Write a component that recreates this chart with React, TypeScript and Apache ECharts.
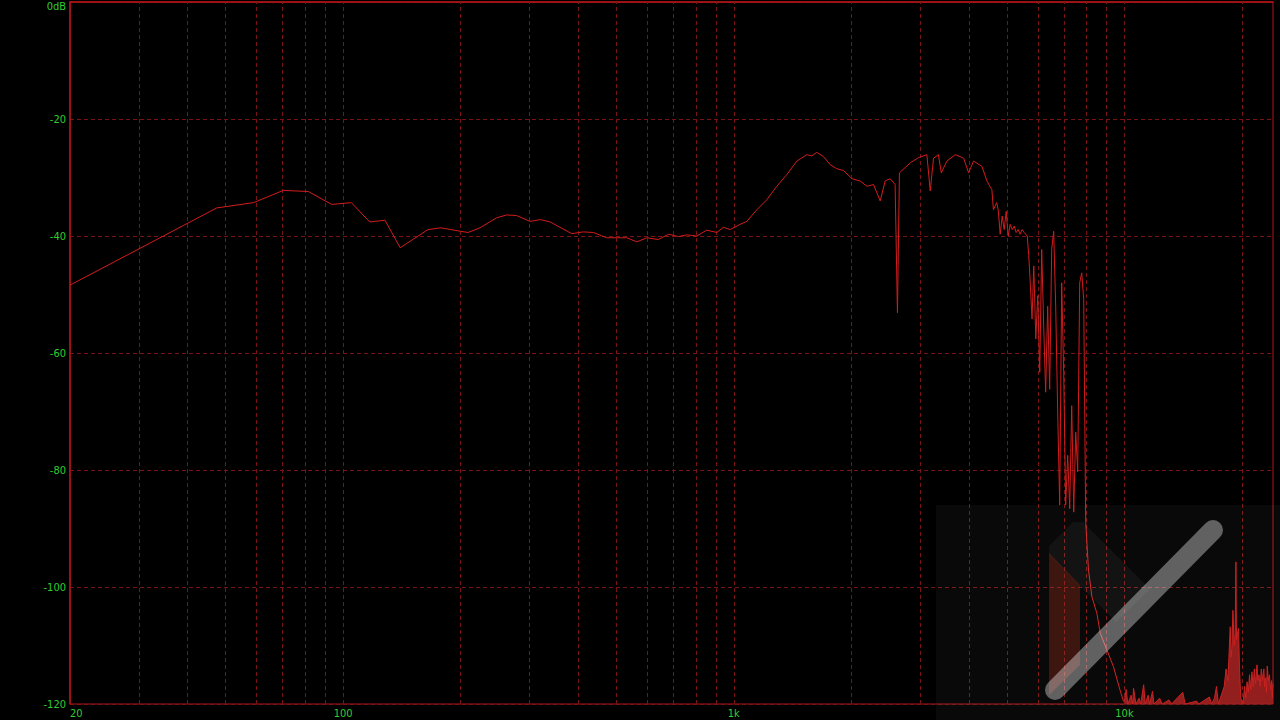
import React, { useEffect, useRef } from "react";
import * as echarts from "echarts";

// Frequency response (Hz, dB)
const mainFreq = [
  20, 47.5, 59, 70.3, 81.5, 93.5, 105, 117, 128, 140, 165, 178, 200, 209, 224, 247, 262, 278, 301, 320, 339,
  385, 412, 437, 473, 502, 532, 565, 599, 641, 681, 722, 758, 804, 853, 905, 941, 979, 1038, 1080, 1146, 1215,
  1289, 1367, 1450, 1538, 1584, 1631, 1696, 1765, 1835, 1909, 2006, 2107, 2191, 2279, 2370, 2441, 2514, 2588,
  2624, 2655, 2829, 2971, 3121, 3183, 3246, 3340, 3398, 3510, 3688, 3875, 3991, 4109, 4317, 4446, 4578, 4620,
  4709, 4752, 4808, 4865, 4922, 4981, 5040, 5099, 5160, 5221, 5283, 5345, 5408, 5472, 5537, 5638, 5690, 5738,
  5800, 5860, 5930, 5998, 6070, 6140, 6213, 6285, 6360, 6436, 6512, 6590, 6668, 6747, 6827, 6908, 6990, 7073,
  7157, 7242, 7328, 7415, 7503, 7592, 7682, 7773, 7865, 7958, 8091, 8257, 8500, 8670, 9020, 9370, 9740, 9950,
];
const mainDb = [
  -48.4, -35.2, -34.3, -32.2, -32.4, -34.6, -34.3, -37.6, -37.3, -42.0, -38.9, -38.6, -39.2, -39.4, -38.6, -36.9,
  -36.4, -36.5, -37.5, -37.2, -37.6, -39.6, -39.3, -39.4, -40.3, -40.3, -40.3, -41.0, -40.3, -40.6, -39.7, -40.1,
  -39.8, -40.0, -39.0, -39.4, -38.5, -38.9, -38.0, -37.5, -35.5, -33.8, -31.5, -29.5, -27.2, -26.1, -26.3, -25.7,
  -26.4, -27.8, -28.5, -28.8, -30.2, -30.6, -31.5, -31.2, -34.0, -30.6, -30.2, -31.2, -53.1, -29.2, -27.5, -26.6,
  -26.1, -32.3, -26.7, -26.1, -29.2, -27.2, -26.1, -26.7, -29.2, -27.2, -28.1, -30.6, -32.1, -35.5, -34.3, -35.5,
  -39.7, -36.6, -38.9, -35.8, -40.0, -38.0, -38.9, -38.3, -39.4, -38.9, -39.7, -38.9, -39.4, -40.0, -43.4, -47.9,
  -54.2, -45.1, -57.6, -50.2, -63.3, -42.3, -55.4, -66.7, -52.0, -66.2, -42.3, -39.2, -52.0, -70.1, -86.0, -48.0,
  -63.3, -86.0, -77.5, -86.6, -69.0, -87.2, -73.5, -80.3, -48.0, -46.3, -50.8, -88.9, -97.1, -101.7, -104.5,
  -107.9, -110.8, -113.6, -117.6, -119.6,
];

// Noise floor above 10 kHz
const noiseFreq = [
  10000, 10100, 10200, 10400, 10500, 10550, 10700, 10900, 11000, 11200, 11300, 11500, 11600, 11800, 11900, 12300,
  12500, 13000, 13200, 14100, 14300, 15300, 15500, 16500, 16700, 17000, 17200, 17400, 17800, 18000, 18200, 18400,
  18650, 18750, 18830, 18950, 19100, 19200, 19290, 19350, 19450, 19590, 19700, 19850, 20100, 20300, 20450, 20600,
  20750, 20900, 21050, 21200, 21350, 21500, 21650, 21840, 21950, 22100, 22250, 22400, 22550, 22740, 22850, 23000,
  23100, 23200, 23350, 23500, 23650, 23800, 23900, 24000,
];
const noiseDb = [
  -119.5, -117.5, -120, -118.5, -120, -117.3, -120, -119, -120, -116.7, -120, -118.5, -120, -117.8, -120, -119,
  -120, -119.3, -120, -118, -120, -119.5, -120, -118.8, -120, -119, -117, -120, -118, -117, -114, -116,
  -106.8, -112, -110.5, -104, -110, -108, -95.7, -109, -108, -107.1, -114, -119, -120, -117, -119, -116.2,
  -118, -115, -117.5, -114.5, -117, -114, -116.5, -113.3, -116, -115, -117, -114, -116, -114, -117, -115.5,
  -118, -113.5, -116, -115, -117.5, -116, -119, -116.5,
];

// Log grid lines (Hz)
const gridFreqs = [
  30, 40, 50, 60, 70, 80, 90, 100, 200, 300, 400, 500, 600, 700, 800, 900, 1000, 2000, 3000, 4000, 5000, 6000,
  7000, 8000, 9000, 10000, 20000,
];
const xLabels: Record<number, string> = { 20: "20", 100: "100", 1000: "1k", 10000: "10k" };

const RED_AXIS = "#b0141a";
const GRID_RED = "#7a1414";
const GREEN = "#30cc30";
const FONT = '"Liberation Sans Narrow", "DejaVu Sans Condensed", "Liberation Sans", sans-serif';

export default function App() {
  const ref = useRef<HTMLDivElement>(null);
  useEffect(() => {
    if (!ref.current) return;
    const chart = echarts.init(ref.current, undefined, { renderer: "svg" });
    const main = mainFreq.map((f, i) => [f, mainDb[i]]);
    const noise = noiseFreq.map((f, i) => [f, noiseDb[i]]);
    chart.setOption({
      animation: false,
      backgroundColor: "#000",
      grid: {
        left: 70,
        top: 2,
        width: 1203,
        height: 702,
        show: true,
        containLabel: false,
        outerBoundsMode: "none",
        borderColor: RED_AXIS,
        borderWidth: 1,
        backgroundColor: "transparent",
      },
      xAxis: {
        type: "log",
        logBase: 10,
        min: 20,
        max: 24000,
        axisLine: { show: true, lineStyle: { color: RED_AXIS, width: 1.5 } },
        axisTick: { show: false },
        splitLine: { show: false },
        axisLabel: {
          color: GREEN,
          fontFamily: FONT,
          fontSize: 11,
          margin: 4,
          showMaxLabel: false,
          alignMinLabel: "left",
          formatter: (v: number) => xLabels[Math.round(v)] ?? "",
        },
      },
      yAxis: {
        type: "value",
        min: -120,
        max: 0,
        interval: 20,
        axisLine: { show: true, lineStyle: { color: RED_AXIS, width: 1.5 } },
        axisTick: { show: false },
        splitLine: { show: true, lineStyle: { color: GRID_RED, type: [4, 3], width: 1 } },
        axisLabel: {
          color: GREEN,
          fontFamily: FONT,
          fontSize: 11,
          margin: 4,
          formatter: (v: number) => (v === 0 ? "{top|0dB}" : String(v)),
          rich: {
            top: { color: GREEN, fontFamily: FONT, fontSize: 11, padding: [8, 0, 0, 0] },
          },
        },
      },
      series: [
        {
          type: "line",
          data: main,
          showSymbol: false,
          symbol: "none",
          lineStyle: { color: "#d41c1c", width: 1 },
          z: 3,
          markLine: {
            silent: true,
            symbol: "none",
            label: { show: false },
            lineStyle: { color: GRID_RED, type: [4, 3], width: 1 },
            data: gridFreqs.map((f) => ({ xAxis: f })),
            z: 1,
          },
        },
        {
          type: "line",
          data: noise,
          showSymbol: false,
          symbol: "none",
          lineStyle: { color: "#c81a1a", width: 1 },
          areaStyle: { color: "#a01818", opacity: 0.9, origin: "start" },
          z: 3,
        },
      ],
      graphic: [
        {
          type: "rect",
          z: 100,
          silent: true,
          shape: { x: 936, y: 505, width: 344, height: 215 },
          style: { fill: "rgba(255,255,255,0.035)" },
        },
        {
          type: "polygon",
          z: 101,
          silent: true,
          shape: {
            points: [
              [1049, 555],
              [1049, 546],
              [1073, 522],
              [1083, 522],
              [1150, 589],
              [1116, 622],
            ],
          },
          style: { fill: "rgba(255,255,255,0.045)" },
        },
        {
          type: "polygon",
          z: 102,
          silent: true,
          shape: {
            points: [
              [1049, 553],
              [1080, 585],
              [1080, 665],
              [1049, 695],
            ],
          },
          style: { fill: "rgba(170,50,30,0.32)" },
        },
        {
          type: "line",
          z: 103,
          silent: true,
          shape: { x1: 1055, y1: 690, x2: 1213, y2: 530 },
          style: { stroke: "rgba(255,255,255,0.36)", lineWidth: 20, lineCap: "round" },
        },
      ],
    });
    return () => chart.dispose();
  }, []);
  return (
    <div
      ref={ref}
      style={{ position: "fixed", left: 0, top: 0, width: 1280, height: 720, background: "#000" }}
    />
  );
}
